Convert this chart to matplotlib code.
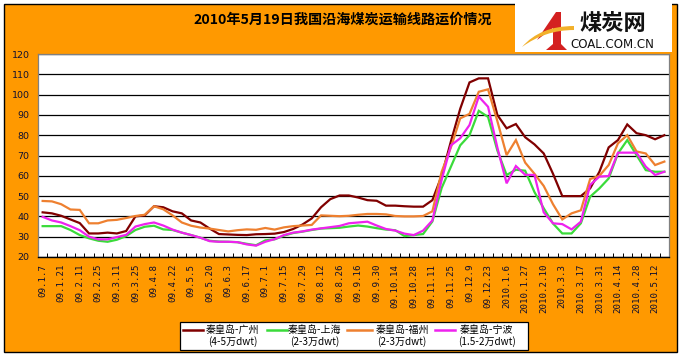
import numpy as np
import matplotlib.pyplot as plt
from matplotlib.patches import Rectangle, Polygon, PathPatch
from matplotlib.lines import Line2D
from matplotlib.path import Path

plt.rcParams['font.family'] = ['Noto Sans CJK SC', 'DejaVu Sans']

W, H = 682, 357

# weekly quotes, 09.1.7 .. 2010.5.19 (68 points)
tick_labels = ['09.1.7', '09.1.21', '09.2.11', '09.2.25', '09.3.11', '09.3.25',
               '09.4.8', '09.4.22', '09.5.5', '09.5.20', '09.6.3', '09.6.17',
               '09.7.1', '09.7.15', '09.7.29', '09.8.12', '09.8.26', '09.9.16',
               '09.9.30', '09.10.14', '09.10.28', '09.11.11', '09.11.25', '09.12.9',
               '09.12.23', '2010.1.6', '2010.1.27', '2010.2.10', '2010.3.3',
               '2010.3.17', '2010.3.31', '2010.4.14', '2010.4.28', '2010.5.12']

guangzhou = [42, 41.5, 40.3, 38.5, 36.7, 31.6, 31.6, 32, 31.6, 32.8,
             40, 40.5, 45, 44.5, 42.5, 41.5, 38, 37, 34, 31.3,
             31.1, 30.9, 30.8, 31.2, 31.3, 31.5, 32.3, 33.8, 36, 39,
             44.5, 48.5, 50.3, 50.3, 49.3, 48, 47.7, 45.3, 45.3, 45,
             44.8, 44.8, 48, 60, 77, 93, 106, 108, 108, 90,
             83.4, 85.5, 79, 75.5, 71, 61, 50, 50, 50, 53.8,
             62, 74, 77.6, 85.3, 81, 80, 78, 80]

shanghai = [35.2, 35.2, 35.2, 33.3, 30.8, 29.2, 28, 27.5, 28.5, 30.3,
            33.3, 34.9, 35.4, 33.6, 33.3, 32, 30.8, 29.5, 28, 27.6,
            27.5, 27.3, 26.5, 25.8, 28.2, 28.7, 30.5, 31.8, 32.5, 33.3,
            34, 34.2, 34.4, 35, 35.5, 35, 34.2, 33.5, 33.2, 30.3,
            30.8, 31.3, 37.5, 54, 64.5, 75, 80, 92, 89, 72.5,
            60.4, 63, 62.5, 52, 44, 36.5, 31.6, 31.6, 36.6, 49.7,
            53.8, 58.7, 71, 77.6, 70.2, 62.8, 62, 62]

fuzhou = [47.6, 47.4, 46, 43.4, 43.2, 36.6, 36.6, 38, 38.3, 39.2,
          40.2, 40.8, 45, 43.5, 40.5, 37, 35.4, 34.5, 34, 33.3,
          32.6, 33.2, 33.6, 33.4, 34.3, 33.5, 34.6, 35.2, 35.5, 35.8,
          40.5, 40.3, 40.1, 40.3, 40.8, 41.2, 41.2, 41, 40.2, 40,
          40, 40.2, 42.5, 62, 74, 88.3, 90.5, 101.4, 102.6, 87,
          70.2, 77.6, 66.5, 61, 55, 46, 38.5, 41.5, 43, 58.4,
          60, 65.3, 76, 80, 72, 71, 65.3, 67]

ningbo = [39.8, 38, 37, 35.2, 33.2, 30, 28.7, 28.7, 29.8, 30.9,
          35, 36.2, 37, 35.5, 33.5, 32, 30.8, 29.5, 27.8, 27.5,
          27.5, 27.3, 26.2, 25.6, 27.5, 28.8, 30.8, 32, 32.6, 33.5,
          34.1, 34.7, 35.3, 36.6, 37, 37.4, 35.5, 33.8, 33, 31.5,
          30.8, 33, 38, 58, 75, 78.5, 85, 99, 94, 74,
          56.3, 64.8, 60.5, 60.4, 42, 36.6, 36.2, 33.6, 37.4, 55.5,
          59.6, 59.9, 71.4, 71.4, 71.4, 64.5, 60.4, 62]

routes = ['秦皇岛-广州', '秦皇岛-上海', '秦皇岛-福州', '秦皇岛-宁波']
sizes = ['(4-5万dwt)', '(2-3万dwt)', '(2-3万dwt)', '(1.5-2万dwt)']
colors = ['#800000', '#3ADB3A', '#EE8030', '#EE22EE']


def fx(x):
    return x / W


def fy(y):
    return 1 - y / H


fig = plt.figure(figsize=(W / 100, H / 100), dpi=100)
fig.patch.set_facecolor('white')

# orange chart area with black frame
fig.patches.append(Rectangle((fx(4), fy(352)), 673 / W, 348 / H,
                             transform=fig.transFigure, facecolor='#FF9900',
                             edgecolor='black', lw=1, zorder=-5))

ax = fig.add_axes([fx(38), fy(257), 631 / W, 203 / H])
ax.set_facecolor('white')

x = np.arange(len(guangzhou))
for vals, c in zip([guangzhou, shanghai, fuzhou, ningbo], colors):
    ax.plot(x, vals, color=c, lw=1.6, solid_joinstyle='miter', zorder=3)

ax.set_xlim(-0.5, len(x) - 0.5)
ax.set_ylim(20, 120)
ax.set_yticks(np.arange(20, 121, 10))
ax.yaxis.grid(True, color='black', lw=0.9)
ax.set_axisbelow(True)

ax.set_xticks(np.arange(0, 2 * len(tick_labels), 2))
ax.set_xticklabels(tick_labels, rotation=90, family='DejaVu Sans Mono',
                   fontsize=6.6, color='#101030')
ax.set_xticks(np.arange(-0.5, len(x), 1), minor=True)
ax.tick_params(axis='x', which='major', length=0, pad=5)
ax.tick_params(axis='x', which='minor', direction='in', length=3,
               width=0.7, color='black')
ax.tick_params(axis='y', length=0, pad=6, labelsize=6.8, labelcolor='#101030')
for lab in ax.get_yticklabels():
    lab.set_family('DejaVu Sans')

for side in ['top', 'left', 'right']:
    ax.spines[side].set_color('#808080')
    ax.spines[side].set_linewidth(0.9)
ax.spines['bottom'].set_color('black')
ax.spines['bottom'].set_linewidth(1.0)

fig.text(fx(343), fy(20), '2010年5月19日我国沿海煤炭运输线路运价情况',
         ha='center', va='center', fontsize=10.2, fontweight='bold')

# legend box
fig.patches.append(Rectangle((fx(180), fy(350)), 348 / W, 28 / H,
                             transform=fig.transFigure, facecolor='white',
                             edgecolor='black', lw=0.9, zorder=2))
line_x = [(183, 203), (267, 287), (347, 372), (435, 455)]
text_cx = [233, 315, 402, 487]
for (x0, x1), cx, c, r, s in zip(line_x, text_cx, colors, routes, sizes):
    fig.lines.append(Line2D([fx(x0), fx(x1)], [fy(330), fy(330)], color=c,
                            lw=1.8, transform=fig.transFigure, zorder=3))
    fig.text(fx(cx), fy(330), r, ha='center', va='center', fontsize=7.2)
    fig.text(fx(cx), fy(342), s, ha='center', va='center', fontsize=7.2)

# logo
fig.patches.append(Rectangle((fx(515), fy(52)), 157 / W, 52 / H + 0.01,
                             transform=fig.transFigure, facecolor='white',
                             edgecolor='none', zorder=4))
red = [(537, 40), (556, 12), (561, 12), (561, 44), (567, 50), (546, 50),
       (553, 44), (553, 28)]
fig.patches.append(Polygon([(fx(a), fy(b)) for a, b in red], closed=True,
                           transform=fig.transFigure, facecolor='#D42020',
                           edgecolor='none', zorder=5))
swoosh = Path([(fx(522), fy(47)), (fx(540), fy(26)), (fx(574), fy(26)),
               (fx(574), fy(30)), (fx(545), fy(30)), (fx(522), fy(47))],
              [Path.MOVETO, Path.CURVE3, Path.CURVE3, Path.LINETO,
               Path.CURVE3, Path.CURVE3])
fig.patches.append(PathPatch(swoosh, transform=fig.transFigure,
                             facecolor='#F2B02A', edgecolor='none', zorder=6))
fig.text(fx(613), fy(23), '煤炭网', ha='center', va='center', fontsize=16,
         fontweight='bold', color='#111111', zorder=6)
fig.text(fx(612), fy(45), 'COAL.COM.CN', ha='center', va='center',
         fontsize=8.5, family='DejaVu Sans', color='#111111', zorder=6)

fig.savefig('out.png', dpi=100)
